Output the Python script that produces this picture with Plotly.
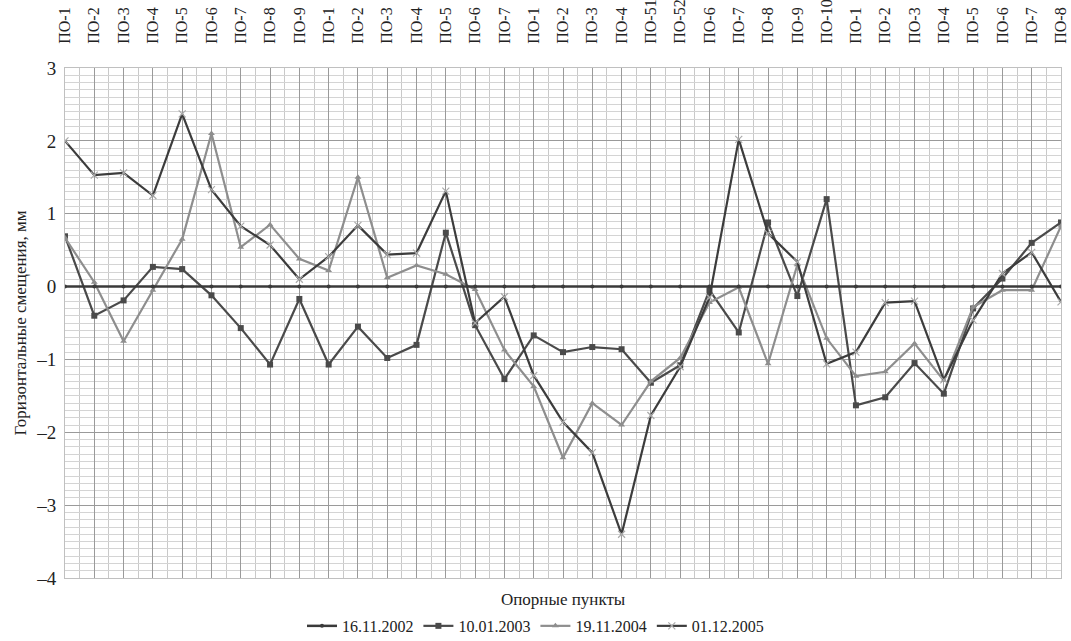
import plotly.graph_objects as go

categories = ["ПО-1", "ПО-2", "ПО-3", "ПО-4", "ПО-5", "ПО-6", "ПО-7", "ПО-8", "ПО-9",
              "ПО-1", "ПО-2", "ПО-3", "ПО-4", "ПО-5", "ПО-6", "ПО-7",
              "ПО-1", "ПО-2", "ПО-3", "ПО-4", "ПО-51", "ПО-52", "ПО-6", "ПО-7", "ПО-8", "ПО-9", "ПО-10",
              "ПО-1", "ПО-2", "ПО-3", "ПО-4", "ПО-5", "ПО-6", "ПО-7", "ПО-8"]

s_2002 = [0.0] * 35
s_2003 = [0.69, -0.40, -0.19, 0.27, 0.24, -0.12, -0.57, -1.07, -0.17, -1.07, -0.55, -0.98, -0.80, 0.74,
          -0.53, -1.27, -0.67, -0.90, -0.83, -0.86, -1.32, -1.08, -0.05, -0.63, 0.88, -0.13, 1.20,
          -1.63, -1.52, -1.05, -1.47, -0.30, 0.11, 0.60, 0.88]
s_2004 = [0.67, 0.06, -0.75, -0.05, 0.65, 2.10, 0.54, 0.85, 0.38, 0.22, 1.50, 0.12, 0.29, 0.17,
          -0.04, -0.87, -1.37, -2.35, -1.60, -1.90, -1.30, -0.98, -0.22, -0.01, -1.06, 0.30, -0.71,
          -1.23, -1.17, -0.78, -1.29, -0.28, -0.05, -0.05, 0.83]
s_2005 = [2.00, 1.53, 1.56, 1.25, 2.37, 1.33, 0.83, 0.57, 0.10, 0.41, 0.84, 0.44, 0.46, 1.31,
          -0.50, -0.14, -1.22, -1.86, -2.28, -3.40, -1.77, -1.10, -0.15, 2.02, 0.73, 0.34, -1.06,
          -0.90, -0.22, -0.20, -1.28, -0.46, 0.18, 0.47, -0.21]

series_names = ["16.11.2002", "10.01.2003", "19.11.2004", "01.12.2005"]

x = list(range(len(categories)))
font_family = "Liberation Serif"

fig = go.Figure()
fig.add_trace(go.Scatter(x=x, y=s_2003, name=series_names[1], mode="lines+markers",
                         line=dict(color="#4a4a4a", width=2.2),
                         marker=dict(symbol="square", size=6, color="#4a4a4a"),
                         legendrank=2))
fig.add_trace(go.Scatter(x=x, y=s_2004, name=series_names[2], mode="lines+markers",
                         line=dict(color="#8e8e8e", width=2.2),
                         marker=dict(symbol="triangle-up", size=6, color="#8e8e8e"),
                         legendrank=3))
fig.add_trace(go.Scatter(x=x, y=s_2005, name=series_names[3], mode="lines+markers",
                         line=dict(color="#3c3c3c", width=2.2),
                         marker=dict(symbol="x-thin", size=7, color="#aaaaaa",
                                     line=dict(color="#aaaaaa", width=1.2)),
                         legendrank=4))
fig.add_trace(go.Scatter(x=x, y=s_2002, name=series_names[0], mode="lines+markers",
                         line=dict(color="#3a3a3a", width=2.5),
                         marker=dict(symbol="circle", size=4, color="#3a3a3a"),
                         legendrank=1))

fig.update_layout(
    width=1071, height=641,
    margin=dict(l=65, r=10, t=68, b=63, autoexpand=False),
    paper_bgcolor="white", plot_bgcolor="white",
    font=dict(family=font_family, color="#222222", size=16),
    showlegend=True,
    legend=dict(orientation="h", x=0.5, xanchor="center", xref="container",
                y=0.05, yanchor="top", yref="container",
                font=dict(size=16, family=font_family), traceorder="normal",
                itemwidth=30, tracegroupgap=0, bgcolor="rgba(0,0,0,0)"),
)

fig.update_xaxes(
    range=[0, len(categories) - 1],
    side="top", automargin=False,
    tickmode="array", tickvals=x, ticktext=categories,
    tickangle=-90, tickfont=dict(size=16, family=font_family, color="#222222"),
    ticks="", ticklabelstandoff=20,
    showgrid=True, gridcolor="#9a9a9a", gridwidth=1,
    minor=dict(dtick=0.5, tick0=0, showgrid=True, gridcolor="#c9c9c9", gridwidth=1),
    showline=True, linecolor="#c0c0c0", mirror=True,
    zeroline=False,
)
fig.update_yaxes(
    range=[-4, 3], automargin=False,
    tickmode="array", tickvals=[-4, -3, -2, -1, 0, 1, 2, 3],
    ticktext=["–4", "–3", "–2", "–1", "0", "1", "2", "3"],
    tickfont=dict(size=19, family=font_family, color="#222222"),
    ticks="", ticklabelstandoff=4,
    showgrid=True, gridcolor="#9a9a9a", gridwidth=1,
    minor=dict(dtick=0.1, tick0=0, showgrid=True, gridcolor="#d4d4d4", gridwidth=1),
    showline=True, linecolor="#c0c0c0", mirror=True,
    zeroline=False,
    title=dict(text="Горизонтальные смещения, мм", font=dict(size=17, family=font_family), standoff=5),
)

fig.add_annotation(text="Опорные пункты", x=0.5, xref="paper", y=-0.02, yref="paper",
                   yanchor="top", showarrow=False, font=dict(size=17, family=font_family))

fig.write_html("out.html")
